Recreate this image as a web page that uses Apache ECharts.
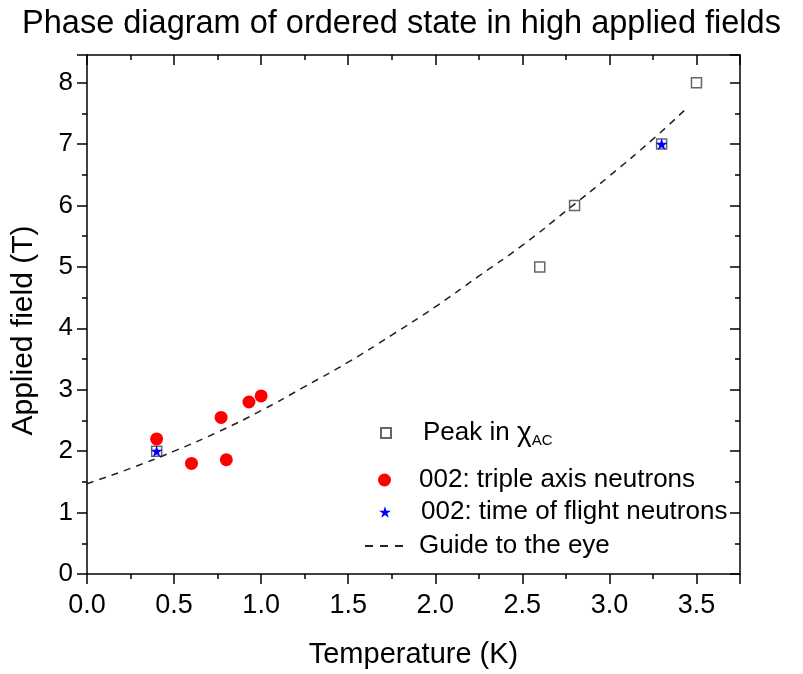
<!DOCTYPE html>
<html>
<head>
<meta charset="utf-8">
<script src="https://cdn.jsdelivr.net/npm/echarts@6/dist/echarts.min.js"></script>
<style>
html,body{margin:0;padding:0;background:#fff;}
#chart{width:803px;height:674px;}
</style>
</head>
<body>
<div id="chart"></div>
<script>
// ---- data ----
const peakT = [0.4, 2.6, 2.8, 3.3, 3.5];
const peakB = [2.0, 5.0, 6.0, 7.0, 8.0];

const tasT = [0.4, 0.6, 0.77, 0.8, 0.93, 1.0];
const tasB = [2.2, 1.8, 2.55, 1.86, 2.8, 2.9];

const tofT = [0.4, 3.3];
const tofB = [2.0, 7.0];

const guideT = [0.0, 0.25, 0.5, 0.75, 1.0, 1.25, 1.5, 1.75, 2.0, 2.25, 2.5, 2.75, 3.0, 3.25, 3.45];
const guideB = [1.47, 1.72, 2.0, 2.31, 2.66, 3.05, 3.45, 3.89, 4.35, 4.85, 5.35, 5.91, 6.48, 7.08, 7.6];

const xTicks = ['0.0', '0.5', '1.0', '1.5', '2.0', '2.5', '3.0', '3.5'];
const yTicks = ['0', '1', '2', '3', '4', '5', '6', '7', '8'];

const names = ['Peak in χAC', '002: triple axis neutrons', '002: time of flight neutrons', 'Guide to the eye'];

const zip = (a, b) => a.map((v, i) => [v, b[i]]);
const STAR = 'path://M50,0 L61.8,35.5 L99,35.5 L69,57.5 L80.3,93 L50,71 L19.7,93 L31,57.5 L1,35.5 L38.2,35.5 Z';
const DASHES = 'path://M0,0H8V2H0Z M15,0H23V2H15Z M30,0H38V2H30Z';
const FONT = '"Liberation Sans", Arial, sans-serif';
const LF = 26;

const chart = echarts.init(document.getElementById('chart'), null, {renderer: 'canvas'});

const axisLineStyle = {color: '#000', width: 1.5};

function legendOf(name, icon, left, top, w, h, pad, extra) {
  const item = {name: name, icon: icon};
  if (extra) item.itemStyle = extra;
  return {
    data: [item],
    left: left, top: top, orient: 'vertical',
    itemWidth: w, itemHeight: h, padding: 0,
    selectedMode: false,
    formatter: function (n) {
      if (n === names[0]) return '{p|}{t|Peak in }{c|χ}{s|AC}';
      return '{p|}{t|' + n + '}';
    },
    textStyle: {
      fontFamily: FONT, fontSize: LF, color: '#000',
      rich: {
        p: {width: pad},
        t: {fontFamily: FONT, fontSize: LF, color: '#000'},
        c: {fontFamily: FONT, fontSize: 28, color: '#000'},
        s: {fontFamily: FONT, fontSize: 15, color: '#000', verticalAlign: 'bottom', padding: [16, 0, 0, 0]}
      }
    }
  };
}

const option = {
  backgroundColor: '#fff',
  animation: false,
  title: {
    text: 'Phase diagram of ordered state in high applied fields',
    left: 'center', top: 3,
    textStyle: {fontFamily: FONT, fontSize: 32.5, fontWeight: 'normal', color: '#000'}
  },
  grid: {left: 87, right: 63, top: 55, bottom: 96, containLabel: false},
  legend: [
    legendOf(names[0], 'rect', 380, 419, 10, 10, 27),
    legendOf(names[1], 'circle', 378, 467, 13, 13, 23),
    legendOf(names[2], STAR, 379, 499, 12, 12, 25),
    legendOf(names[3], DASHES, 365, 533, 38, 2, 11, {color: '#222', borderWidth: 0})
  ],
  xAxis: [{
    type: 'value', min: 0, max: 3.75, interval: 0.5, position: 'bottom',
    name: 'Temperature (K)', nameLocation: 'middle', nameGap: 66,
    nameTextStyle: {fontFamily: FONT, fontSize: 29, color: '#000'},
    axisLine: {show: true, onZero: false, lineStyle: axisLineStyle},
    axisTick: {show: true, inside: false, length: 10, lineStyle: axisLineStyle},
    minorTick: {show: true, splitNumber: 2, length: 5, lineStyle: {color: '#000', width: 1.5}},
    splitLine: {show: false},
    axisLabel: {fontFamily: FONT, fontSize: 27, color: '#000', margin: 18,
      formatter: function (v) { const s = v.toFixed(1); return xTicks.indexOf(s) >= 0 ? s : ''; }}
  }, {
    type: 'value', min: 0, max: 3.75, interval: 0.5, position: 'top',
    axisLine: {show: true, onZero: false, lineStyle: axisLineStyle},
    axisTick: {show: true, inside: true, length: 10, lineStyle: axisLineStyle},
    minorTick: {show: true, splitNumber: 2, length: 5, lineStyle: {color: '#000', width: 1.5}},
    splitLine: {show: false},
    axisLabel: {show: false}
  }],
  yAxis: [{
    type: 'value', min: 0, max: 8.45, interval: 1, position: 'left',
    name: 'Applied field (T)', nameLocation: 'middle', nameGap: 48,
    nameTextStyle: {fontFamily: FONT, fontSize: 30, color: '#000', padding: [0, 32, 0, 0]},
    axisLine: {show: true, onZero: false, lineStyle: axisLineStyle},
    axisTick: {show: true, inside: false, length: 10, lineStyle: axisLineStyle},
    minorTick: {show: true, splitNumber: 2, length: 5, lineStyle: {color: '#000', width: 1.5}},
    splitLine: {show: false},
    axisLabel: {fontFamily: FONT, fontSize: 26, color: '#000', margin: 14,
      formatter: function (v) { const s = String(v); return yTicks.indexOf(s) >= 0 ? s : ''; }}
  }, {
    type: 'value', min: 0, max: 8.45, interval: 1, position: 'right',
    axisLine: {show: true, onZero: false, lineStyle: axisLineStyle},
    axisTick: {show: true, inside: true, length: 10, lineStyle: axisLineStyle},
    minorTick: {show: true, splitNumber: 2, length: 5, lineStyle: {color: '#000', width: 1.5}},
    splitLine: {show: false},
    axisLabel: {show: false}
  }],
  series: [{
    name: names[0], type: 'scatter', symbol: 'rect', symbolSize: 10,
    itemStyle: {color: '#fff', borderColor: '#666', borderWidth: 1.5, opacity: 1},
    data: zip(peakT, peakB), z: 2
  }, {
    name: names[1], type: 'scatter', symbol: 'circle', symbolSize: 13,
    itemStyle: {color: '#ff0000', opacity: 1},
    data: zip(tasT, tasB), z: 3
  }, {
    name: names[2], type: 'scatter', symbol: STAR, symbolSize: 12,
    itemStyle: {color: '#0000ff', opacity: 1},
    data: zip(tofT, tofB), z: 4
  }, {
    name: names[3], type: 'line', smooth: true, symbol: 'none', showSymbol: false,
    lineStyle: {color: '#222', width: 1.5, type: [7, 6]},
    itemStyle: {color: '#222'},
    data: zip(guideT, guideB), z: 5
  }]
};
chart.setOption(option);
</script>
</body>
</html>
